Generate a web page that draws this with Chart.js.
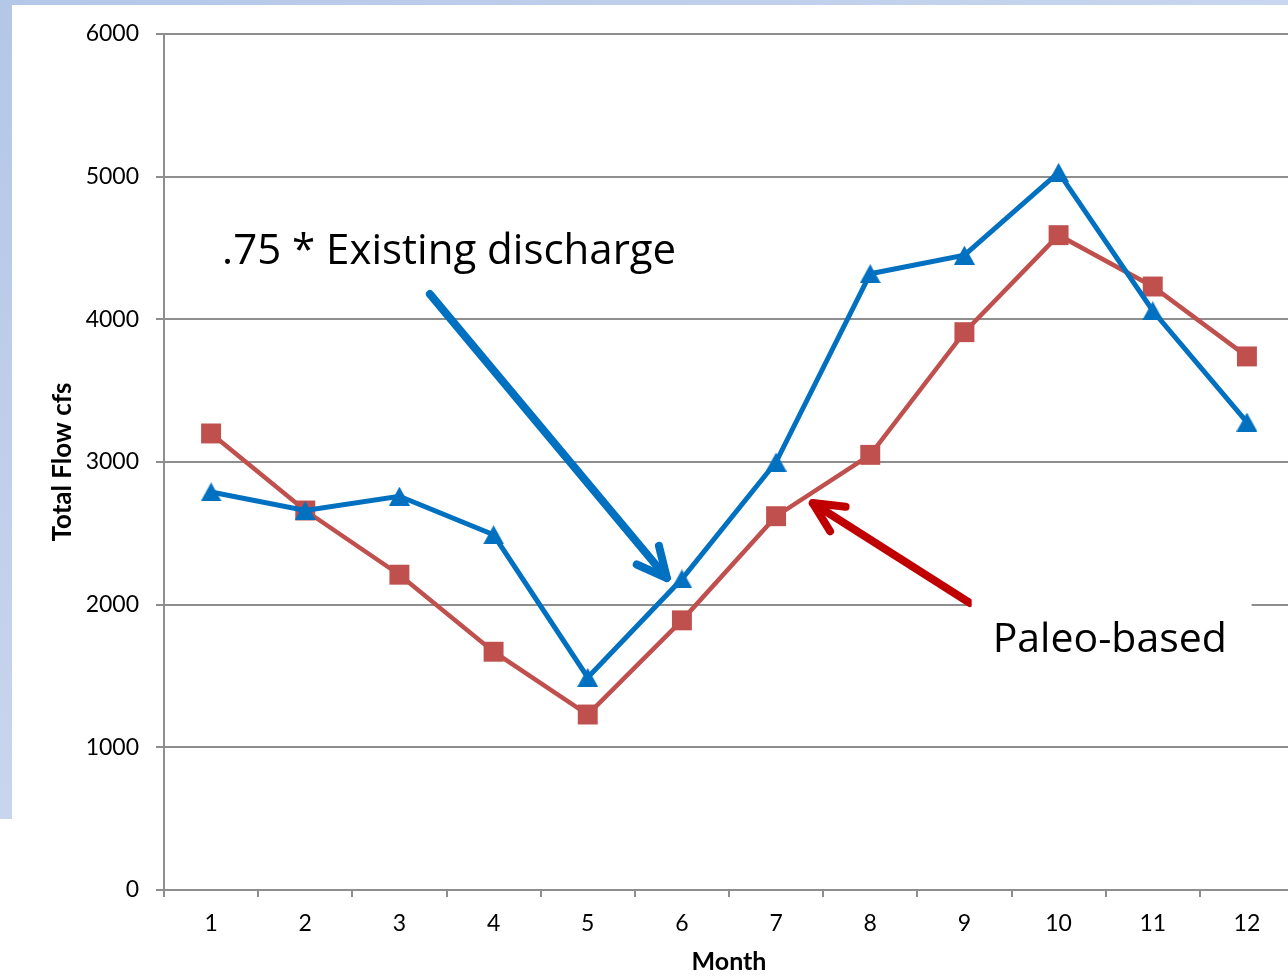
<!DOCTYPE html>
<html>
<head>
<meta charset="utf-8">
<script src="https://cdn.jsdelivr.net/npm/chart.js@4.4.1/dist/chart.umd.min.js"></script>
<style>
  html, body { margin: 0; padding: 0; background: #ffffff; overflow: hidden; }
  #wrap { position: absolute; left: 0; top: 0; width: 1300px; height: 977px; }
  #topBand { position: absolute; left: 0; top: 0; width: 1288px; height: 5px;
    background: linear-gradient(to right, #b4c7e7, #c8d6ef); z-index: 2; }
  #leftBand { position: absolute; left: 0; top: 0; width: 12px; height: 819px;
    background: linear-gradient(to bottom, #b4c7e7, #c8d5ee); z-index: 2; }
</style>
</head>
<body>
<div id="topBand"></div>
<div id="leftBand"></div>
<div id="wrap"><canvas id="chart" width="1300" height="977"></canvas></div>
<script>
// Monthly total flow (cfs)
const months = ['1', '2', '3', '4', '5', '6', '7', '8', '9', '10', '11', '12'];
const existingScaled = [2790, 2660, 2760, 2490, 1490, 2180, 3000, 4320, 4450, 5030, 4060, 3280];
const paleoBased = [3200, 2660, 2210, 1670, 1230, 1890, 2620, 3050, 3910, 4590, 4230, 3740];
const yTicks = [0, 1000, 2000, 3000, 4000, 5000, 6000];

const BLUE = '#0070C0';
const RED = '#C0504D';
const FONT = 'Lato, "Open Sans", "DejaVu Sans", sans-serif';
const NOTE_FONT = '"Open Sans", Lato, "DejaVu Sans", sans-serif';

// Triangle marker drawn into a small canvas so it sits centred on the point
function triangleMarker(color, w, h) {
  const c = document.createElement('canvas');
  c.width = w; c.height = h;
  const g = c.getContext('2d');
  g.fillStyle = color;
  g.beginPath();
  g.moveTo(w / 2, 0);
  g.lineTo(w, h);
  g.lineTo(0, h);
  g.closePath();
  g.fill();
  return c;
}

// Callouts placed in data space: x = category index, y = flow value
const callouts = {
  texts: [
    { text: '.75 * Existing discharge', x: 0.117, y: 4385, size: 42, box: null },
    { text: 'Paleo-based', x: 8.30, y: 1668, size: 41,
      box: { x0: 8.077, x1: 11.05, y0: 2068, y1: 1472 } }
  ],
  arrows: [
    { color: BLUE, from: [2.324, 4177], to: [4.84, 2187] },
    { color: '#C00000', from: [8.056, 2012], to: [6.39, 2712] }
  ]
};

const calloutPlugin = {
  id: 'callouts',
  afterDatasetsDraw(chart) {
    const { ctx, scales: { x, y } } = chart;
    const px = v => x.getPixelForValue(v);
    const py = v => y.getPixelForValue(v);
    ctx.save();
    for (const a of callouts.arrows) {
      const x0 = px(a.from[0]), y0 = py(a.from[1]);
      const x1 = px(a.to[0]), y1 = py(a.to[1]);
      const ang = Math.atan2(y0 - y1, x0 - x1);
      const head = 33, spread = 26 * Math.PI / 180;
      ctx.strokeStyle = a.color;
      ctx.lineWidth = 8;
      ctx.lineCap = 'round';
      ctx.lineJoin = 'round';
      ctx.beginPath();
      ctx.moveTo(x0, y0);
      ctx.lineTo(x1, y1);
      ctx.stroke();
      ctx.beginPath();
      ctx.moveTo(x1 + head * Math.cos(ang - spread), y1 + head * Math.sin(ang - spread));
      ctx.lineTo(x1, y1);
      ctx.lineTo(x1 + head * Math.cos(ang + spread), y1 + head * Math.sin(ang + spread));
      ctx.stroke();
    }
    for (const t of callouts.texts) {
      if (t.box) {
        ctx.fillStyle = '#ffffff';
        const bx0 = px(t.box.x0), bx1 = px(t.box.x1);
        const by0 = py(t.box.y0), by1 = py(t.box.y1);
        ctx.fillRect(bx0, by0, bx1 - bx0, by1 - by0);
      }
      ctx.fillStyle = '#000000';
      ctx.font = t.size + 'px ' + NOTE_FONT;
      ctx.textAlign = 'left';
      ctx.textBaseline = 'alphabetic';
      ctx.fillText(t.text, px(t.x), py(t.y));
    }
    ctx.restore();
  }
};

const GRID = '#8e8e8e';

new Chart(document.getElementById('chart'), {
  type: 'line',
  data: {
    labels: months,
    datasets: [
      {
        label: '.75 * Existing discharge',
        data: existingScaled,
        borderColor: BLUE,
        backgroundColor: BLUE,
        borderWidth: 5,
        pointStyle: triangleMarker(BLUE, 21, 19),
        pointRadius: 10,
        tension: 0
      },
      {
        label: 'Paleo-based',
        data: paleoBased,
        borderColor: RED,
        backgroundColor: RED,
        borderWidth: 4.5,
        pointStyle: 'rect',
        pointRadius: 14.1,
        pointBorderWidth: 0,
        tension: 0
      }
    ]
  },
  options: {
    responsive: false,
    animation: false,
    layout: { autoPadding: false, padding: { left: 0, top: 34, right: 6, bottom: 0 } },
    plugins: {
      legend: { display: false },
      tooltip: { enabled: false }
    },
    scales: {
      x: {
        type: 'category',
        offset: true,
        grid: { drawOnChartArea: false, drawTicks: true, tickLength: 7, color: GRID, lineWidth: 2, offset: true },
        border: { display: true, color: GRID, width: 2 },
        ticks: { color: '#000000', font: { family: FONT, size: 23 }, padding: 13, maxRotation: 0 },
        title: { display: true, text: 'Month', color: '#000000',
          font: { family: FONT, size: 25, weight: 'bold' }, padding: { top: 0, bottom: 0 } },
        afterFit(scale) {
          scale.height = 87;
          scale.paddingLeft = 0;
          scale.paddingRight = 0;
        }
      },
      y: {
        min: 0,
        max: 6000,
        afterBuildTicks(scale) { scale.ticks = yTicks.map(v => ({ value: v })); },
        grid: { drawOnChartArea: true, drawTicks: true, tickLength: 8, color: GRID, lineWidth: 2 },
        border: { display: true, color: GRID, width: 2 },
        ticks: { color: '#000000', font: { family: FONT, size: 23 }, padding: 17,
          callback: v => String(v) },
        title: { display: true, text: 'Total Flow cfs', color: '#000000',
          font: { family: FONT, size: 26, weight: 'bold' }, padding: { top: 47, bottom: 0 } },
        afterFit(scale) { scale.width = 164; }
      }
    }
  },
  plugins: [calloutPlugin]
});
</script>
</body>
</html>
